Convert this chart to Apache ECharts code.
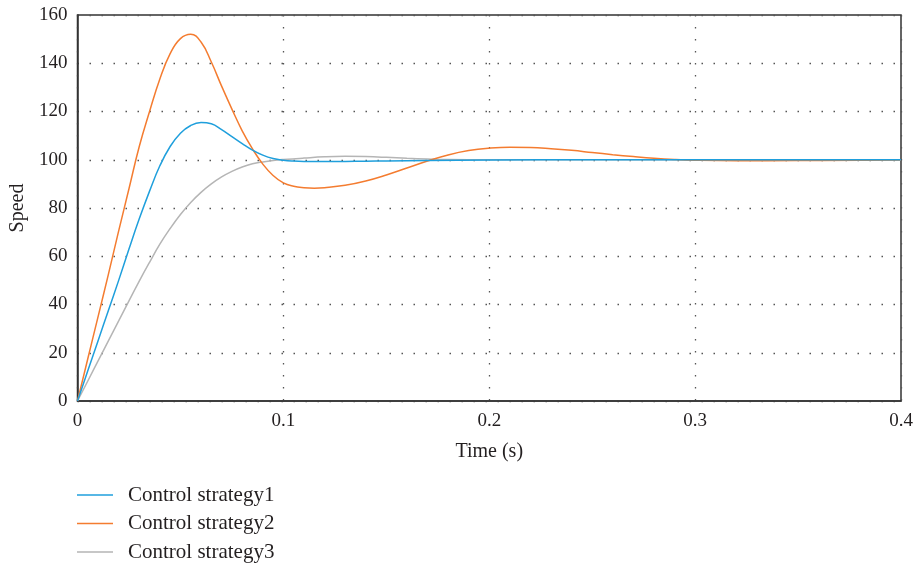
<!DOCTYPE html>
<html>
<head>
<meta charset="utf-8">
<script src="https://cdn.jsdelivr.net/npm/echarts@6/dist/echarts.min.js"></script>
<style>
html,body{margin:0;padding:0;background:#fff;}
#chart{width:916px;height:563px;}
</style>
</head>
<body>
<div id="chart"></div>
<script>
const seriesNames = ['Control strategy1', 'Control strategy2', 'Control strategy3'];
const xTickLabels = ['0', '0.1', '0.2', '0.3', '0.4'];
const yTickLabels = ['0', '20', '40', '60', '80', '100', '120', '140', '160'];

const time1 = [0, 0.005, 0.01, 0.015, 0.02, 0.025, 0.03, 0.035, 0.04, 0.045, 0.05, 0.055, 0.06, 0.065, 0.07, 0.075, 0.08, 0.085, 0.09, 0.095, 0.1, 0.105, 0.11, 0.12, 0.13, 0.14, 0.15, 0.17, 0.2, 0.25, 0.3, 0.4];
const speed1 = [0, 12.5, 25, 37.5, 50, 63, 75.5, 87, 97.5, 105.5, 111, 114.2, 115.4, 114.9, 112.5, 109.6, 106.7, 104, 101.9, 100.5, 99.8, 99.45, 99.3, 99.25, 99.3, 99.4, 99.5, 99.7, 99.9, 100, 100, 100];

const time2 = [0, 0.005, 0.01, 0.015, 0.02, 0.025, 0.03, 0.035, 0.04, 0.045, 0.05, 0.055, 0.06, 0.065, 0.07, 0.075, 0.08, 0.085, 0.09, 0.095, 0.1, 0.105, 0.11, 0.115, 0.12, 0.13, 0.14, 0.15, 0.16, 0.17, 0.18, 0.19, 0.2, 0.21, 0.22, 0.23, 0.24, 0.25, 0.26, 0.27, 0.28, 0.29, 0.3, 0.32, 0.35, 0.4];
const speed2 = [0, 17.5, 35, 52.5, 70.5, 88, 105.5, 120, 133.5, 144, 150.2, 152, 148.8, 140.5, 130.5, 121, 112, 104.5, 98.2, 93.5, 90.4, 89, 88.4, 88.2, 88.4, 89.4, 91.2, 93.7, 96.6, 99.5, 102, 103.8, 104.8, 105.2, 105.1, 104.6, 103.9, 103, 102.1, 101.3, 100.6, 100.1, 99.8, 99.6, 99.7, 99.9];

const time3 = [0, 0.005, 0.01, 0.015, 0.02, 0.025, 0.03, 0.035, 0.04, 0.045, 0.05, 0.055, 0.06, 0.065, 0.07, 0.075, 0.08, 0.085, 0.09, 0.095, 0.1, 0.11, 0.12, 0.13, 0.14, 0.15, 0.16, 0.17, 0.18, 0.2, 0.3, 0.4];
const speed3 = [0, 8.3, 16.6, 24.9, 33.2, 41.5, 49.7, 57.5, 65, 71.5, 77.3, 82.3, 86.5, 90, 92.9, 95.2, 97, 98.3, 99.1, 99.7, 100.1, 100.7, 101.2, 101.4, 101.3, 101, 100.6, 100.3, 100.1, 100, 100, 100];

const colors = ['#1f9fdc', '#f47c30', '#b5b5b5'];

function pairs(t, v) { return t.map((x, i) => [x, v[i]]); }

const chart = echarts.init(document.getElementById('chart'), null, {renderer: 'canvas'});
const font = 'Liberation Serif';
const dotted = {type: [1.5, 10.5], color: '#555', width: 1.3};

chart.setOption({
  animation: false,
  color: colors,
  grid: {left: 77.5, right: 15, top: 15, bottom: 162, outerBoundsMode: 'none', containLabel: false,
    show: true, borderColor: '#333', borderWidth: 1.5, backgroundColor: 'transparent'},
  xAxis: {
    type: 'value', min: 0, max: 0.4, interval: 0.1,
    name: 'Time (s)', nameLocation: 'middle', nameGap: 41,
    nameTextStyle: {fontFamily: font, fontSize: 20, color: '#231f20'},
    axisLine: {show: true, lineStyle: {color: '#333', width: 1.5}},
    axisTick: {show: false},
    axisLabel: {fontFamily: font, fontSize: 19, color: '#231f20', margin: 11,
      formatter: v => xTickLabels[Math.round(v * 10)]},
    splitLine: {show: true, lineStyle: dotted}
  },
  yAxis: {
    type: 'value', min: 0, max: 160, interval: 20,
    name: 'Speed', nameLocation: 'middle', nameGap: 48,
    nameTextStyle: {fontFamily: font, fontSize: 20, color: '#231f20'},
    axisLine: {show: true, lineStyle: {color: '#333', width: 1.5}},
    axisTick: {show: false},
    axisLabel: {fontFamily: font, fontSize: 19, color: '#231f20', margin: 10,
      formatter: v => yTickLabels[Math.round(v / 20)]},
    splitLine: {show: true, lineStyle: dotted}
  },
  legend: {
    orient: 'vertical', left: 77, top: 484.5, padding: 0, itemWidth: 36, itemHeight: 1.6, itemGap: 7.5,
    icon: 'rect',
    textStyle: {fontFamily: font, fontSize: 21, lineHeight: 21, color: '#231f20', padding: [0, 0, 0, 10]},
    data: seriesNames
  },
  series: [
    {name: seriesNames[0], type: 'line', data: pairs(time1, speed1), smooth: 0.45, showSymbol: false, lineStyle: {width: 1.5}, z: 3},
    {name: seriesNames[1], type: 'line', data: pairs(time2, speed2), smooth: 0.45, showSymbol: false, lineStyle: {width: 1.5}, z: 2},
    {name: seriesNames[2], type: 'line', data: pairs(time3, speed3), smooth: 0.45, showSymbol: false, lineStyle: {width: 1.5}, z: 1}
  ]
});
</script>
</body>
</html>
